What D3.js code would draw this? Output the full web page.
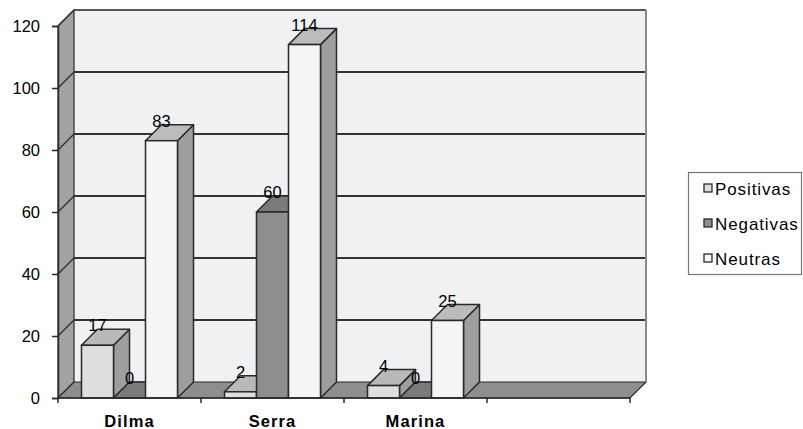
<!DOCTYPE html>
<html>
<head>
<meta charset="utf-8">
<script src="https://cdn.jsdelivr.net/npm/d3@7"></script>
<style>
  html, body { margin: 0; padding: 0; background: #ffffff; }
  svg { display: block; }
  text { font-family: "Liberation Sans", Arial, sans-serif; fill: #000; }
</style>
</head>
<body>
<svg id="chart" width="803" height="429"></svg>
<script>
// Data
const categories = ["Dilma", "Serra", "Marina", ""];
const seriesNames = ["Positivas", "Negativas", "Neutras"];
const positivas = [17, 2, 4];
const negativas = [0, 60, 0];
const neutras = [83, 114, 25];
const yTicks = [0, 20, 40, 60, 80, 100, 120];

const seriesValues = [positivas, negativas, neutras];

// Face colours for each series: front, top, side
const palette = [
  { front: "#dedede", top: "#b9b9b9", side: "#9e9e9e" },
  { front: "#8e8e8e", top: "#7a7a7a", side: "#6c6c6c" },
  { front: "#f5f5f5", top: "#bcbcbc", side: "#9e9e9e" }
];

const svg = d3.select("#chart");

// Layout of the front plane and the depth offset of the 3D box
const plotLeft = 58, plotRight = 630, plotTop = 26, plotBottom = 398;
const depthX = 16, depthY = -16;

const y = d3.scaleLinear().domain([0, 120]).range([plotBottom, plotTop]);
const x = d3.scaleBand().domain(categories).range([plotLeft, plotRight]).padding(0);
const inner = d3.scaleBand().domain(seriesNames)
  .range([23.5, x.bandwidth() - 23.5]).padding(0);

const outline = "#2a2a2a";
const poly = pts => pts.map(p => p.join(",")).join(" ");

// Back wall
svg.append("rect")
  .attr("x", plotLeft + depthX).attr("y", plotTop + depthY)
  .attr("width", plotRight - plotLeft).attr("height", plotBottom - plotTop)
  .attr("fill", "#f0f1f3");

// Left side wall
svg.append("polygon")
  .attr("points", poly([[plotLeft, plotTop], [plotLeft + depthX, plotTop + depthY],
                        [plotLeft + depthX, plotBottom + depthY], [plotLeft, plotBottom]]))
  .attr("fill", "#a2a2a2").attr("stroke", outline).attr("stroke-width", 1.2);

// Floor
svg.append("polygon")
  .attr("points", poly([[plotLeft, plotBottom], [plotLeft + depthX, plotBottom + depthY],
                        [plotRight + depthX, plotBottom + depthY], [plotRight, plotBottom]]))
  .attr("fill", "#8e8e8e").attr("stroke", outline).attr("stroke-width", 1.2);

// Gridlines across the back wall and the side wall
const grid = svg.append("g");
yTicks.filter(t => t > 0).forEach(t => {
  const yy = y(t);
  grid.append("line")
    .attr("x1", plotLeft + depthX).attr("x2", plotRight + depthX)
    .attr("y1", yy + depthY).attr("y2", yy + depthY)
    .attr("stroke", t === 120 ? "#555" : "#333").attr("stroke-width", 2);
  grid.append("line")
    .attr("x1", plotLeft).attr("x2", plotLeft + depthX)
    .attr("y1", yy).attr("y2", yy + depthY)
    .attr("stroke", "#333").attr("stroke-width", 1.5);
});

// Right edge of the back wall
svg.append("line")
  .attr("x1", plotRight + depthX).attr("x2", plotRight + depthX)
  .attr("y1", plotTop + depthY).attr("y2", plotBottom + depthY)
  .attr("stroke", "#8a8a8a").attr("stroke-width", 2);

// 3D columns
const bars = svg.append("g");
categories.forEach((cat, ci) => {
  seriesNames.forEach((s, si) => {
    const v = seriesValues[si][ci];
    if (v === undefined) return;
    const x0 = x(cat) + inner(s);
    const x1 = x0 + inner.bandwidth();
    const yTop = y(v);
    const c = palette[si];
    // right side face
    bars.append("polygon")
      .attr("points", poly([[x1, yTop], [x1 + depthX, yTop + depthY],
                            [x1 + depthX, plotBottom + depthY], [x1, plotBottom]]))
      .attr("fill", c.side).attr("stroke", outline).attr("stroke-width", 1.5)
      .attr("stroke-linejoin", "round");
    // top face
    bars.append("polygon")
      .attr("points", poly([[x0, yTop], [x0 + depthX, yTop + depthY],
                            [x1 + depthX, yTop + depthY], [x1, yTop]]))
      .attr("fill", c.top).attr("stroke", outline).attr("stroke-width", 1.5)
      .attr("stroke-linejoin", "round");
    // front face
    bars.append("rect")
      .attr("x", x0).attr("y", yTop)
      .attr("width", x1 - x0).attr("height", plotBottom - yTop)
      .attr("fill", c.front).attr("stroke", outline).attr("stroke-width", 1.5);
    // value label
    bars.append("text")
      .attr("x", (x0 + x1) / 2).attr("y", yTop + depthY + 2)
      .attr("text-anchor", "middle")
      .attr("font-size", 16.5)
      .text(v);
  });
});

// Y axis
const yAxis = svg.append("g")
  .attr("transform", `translate(${plotLeft},0)`)
  .call(d3.axisLeft(y).tickValues(yTicks).tickSize(6).tickPadding(12));
yAxis.select(".domain").attr("stroke", outline).attr("stroke-width", 1.5);
yAxis.selectAll(".tick line").attr("stroke", outline).attr("stroke-width", 1.5);
yAxis.selectAll(".tick text")
  .attr("font-size", 16.5).attr("font-family", "Liberation Sans, Arial, sans-serif")
  .attr("fill", "#000");

// X axis
const xAxis = svg.append("g");
xAxis.append("line")
  .attr("x1", plotLeft).attr("x2", plotRight).attr("y1", plotBottom).attr("y2", plotBottom)
  .attr("stroke", outline).attr("stroke-width", 1.5);
const bounds = categories.map(c => x(c)).concat([plotRight]);
bounds.forEach(bx => {
  xAxis.append("line")
    .attr("x1", bx).attr("x2", bx).attr("y1", plotBottom).attr("y2", plotBottom + 5)
    .attr("stroke", outline).attr("stroke-width", 1.5);
});
categories.forEach(cat => {
  if (!cat) return;
  xAxis.append("text")
    .attr("x", x(cat) + x.bandwidth() / 2).attr("y", 427)
    .attr("text-anchor", "middle")
    .attr("font-size", 16.5).attr("font-weight", "bold")
    .attr("letter-spacing", 1.1)
    .text(cat);
});

// Legend
const legend = svg.append("g");
legend.append("rect")
  .attr("x", 688.5).attr("y", 172.5).attr("width", 113).attr("height", 102)
  .attr("fill", "#fff").attr("stroke", "#777").attr("stroke-width", 1.2);
seriesNames.forEach((s, i) => {
  const cy = 188 + i * 35;
  legend.append("rect")
    .attr("x", 704).attr("y", cy - 4).attr("width", 8).attr("height", 8)
    .attr("fill", palette[i].front).attr("stroke", outline).attr("stroke-width", 1.3);
  legend.append("text")
    .attr("x", 715).attr("y", cy + 6.5)
    .attr("font-size", 17).attr("letter-spacing", 0.9)
    .text(s);
});
</script>
</body>
</html>
